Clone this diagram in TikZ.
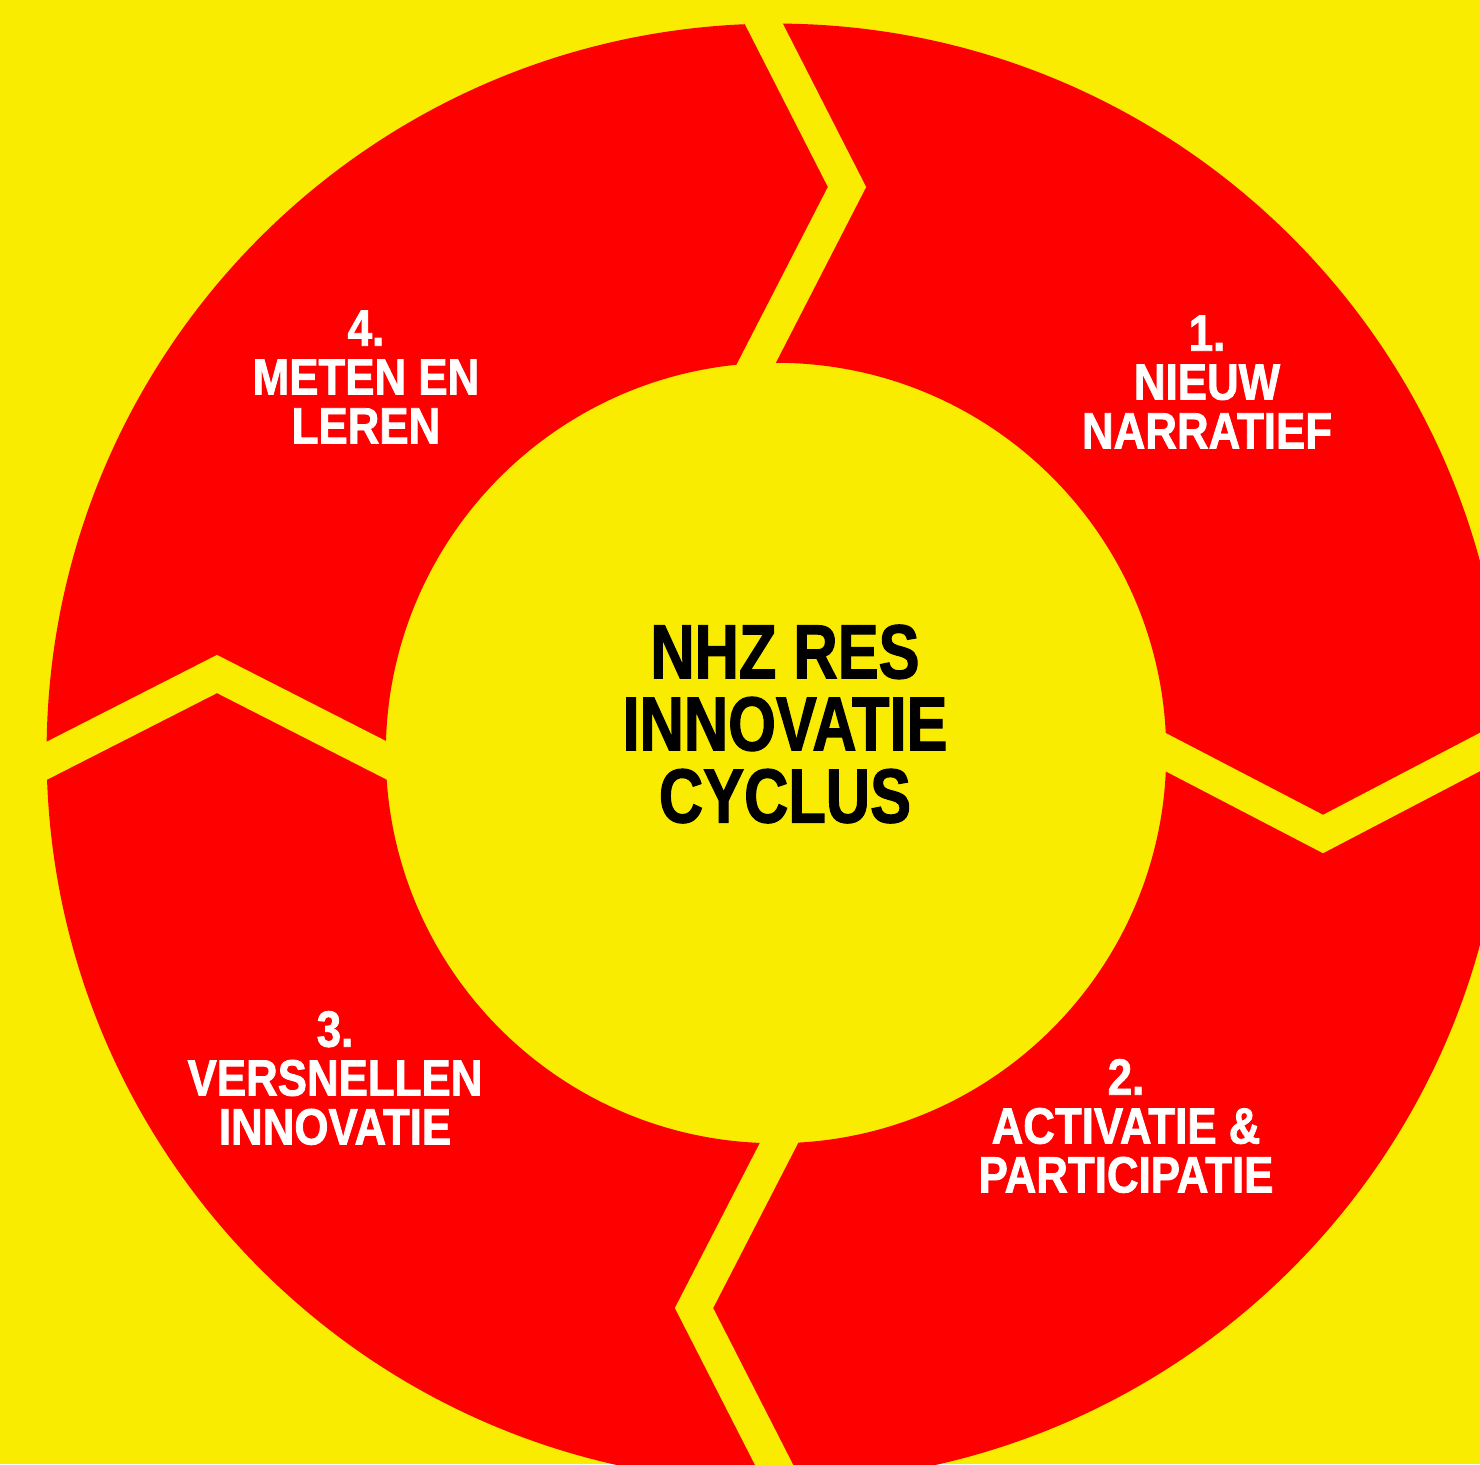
\documentclass[tikz,border=0pt]{standalone}
\usepackage{fontspec}
\newfontfamily\cyclefont{Liberation Sans}[FakeStretch=0.86, FakeBold=1.5]
\newfontfamily\corefont{Liberation Sans}[FakeStretch=0.8, FakeBold=1.5]
\definecolor{ringred}{RGB}{255,0,0}
\definecolor{bgyellow}{RGB}{250,236,0}
\begin{document}
\begin{tikzpicture}[x=0.01cm, y=-0.01cm,
    gap/.style={draw=bgyellow, line width=0.34cm, miter limit=20},
    phase/.style={text=white, align=center, inner sep=0pt,
      font=\cyclefont\bfseries\fontsize{14.5}{13.9}\selectfont},
    title/.style={text=black, align=center, inner sep=0pt,
      font=\corefont\bfseries\fontsize{21.8}{20.5}\selectfont}]
    \useasboundingbox (0,0) rectangle (1480,1464);
    \fill[bgyellow] (0,0) rectangle (1480,1464);

    \coordinate (c) at (776,753);
    \fill[ringred, even odd rule] (c) circle[radius=7.29cm] (c) circle[radius=3.9cm];

    \draw[gap] (737,401) -- (847,187) -- (744,-15);
    \draw[gap] (1125,731) -- (1323,834) -- (1520,731);
    \draw[gap] (798,1106) -- (694,1308) -- (792,1500);
    \draw[gap] (7,781) -- (217,674) -- (425,780);

    \node[title] (core) at (785,724) {NHZ RES\\INNOVATIE\\CYCLUS};
    \node[phase] (p1) at (1207,382) {1.\\NIEUW\\NARRATIEF};
    \node[phase] (p2) at (1126,1126) {2.\\ACTIVATIE \&\\PARTICIPATIE};
    \node[phase] (p3) at (335,1078) {3.\\VERSNELLEN\\INNOVATIE};
    \node[phase] (p4) at (366,377) {4.\\METEN EN\\LEREN};
\end{tikzpicture}
\end{document}
